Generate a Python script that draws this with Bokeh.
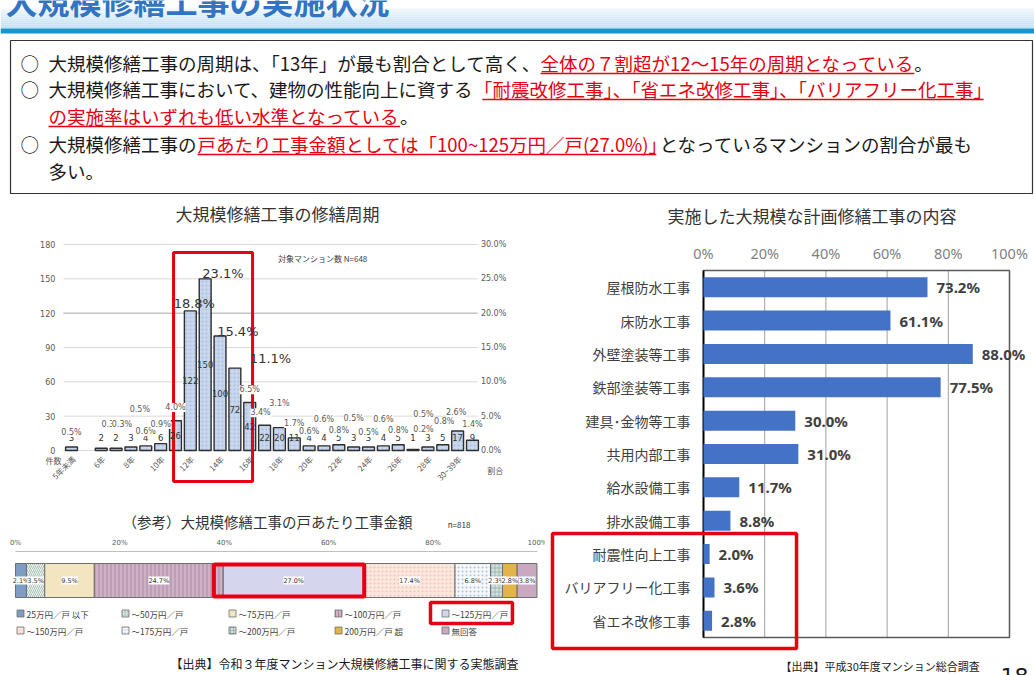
import math
from bokeh.plotting import figure
from bokeh.layouts import column, row
from bokeh.models import Range1d, LabelSet, ColumnDataSource
from bokeh.embed import file_html
from bokeh.resources import INLINE
from bokeh.core.properties import value

JP = "Noto Sans CJK JP"
NUM = "DejaVu Sans"
RED = "#E60012"
DARK = "#404040"
GRAY = "#595959"

# ---------------- data: 大規模修繕工事の修繕周期 ----------------
cycle_categories = ["5年未満", "5年", "6年", "7年", "8年", "9年", "10年", "11年", "12年", "13年",
                    "14年", "15年", "16年", "17年", "18年", "19年", "20年", "21年", "22年", "23年",
                    "24年", "25年", "26年", "27年", "28年", "29年", "30~39年", "40年以上"]
cycle_counts = [3, 0, 2, 2, 3, 4, 6, 26, 122, 150, 100, 72, 42, 22, 20, 11, 4, 4, 5, 3, 3, 4, 5, 1, 3, 5, 17, 9]
cycle_share = [0.5, 0.0, 0.3, 0.3, 0.5, 0.6, 0.9, 4.0, 18.8, 23.1, 15.4, 11.1, 6.5, 3.4, 3.1, 1.7,
               0.6, 0.6, 0.8, 0.5, 0.5, 0.6, 0.8, 0.2, 0.5, 0.8, 2.6, 1.4]
cycle_tick_labels = ["5年未満", "6年", "8年", "10年", "12年", "14年", "16年", "18年", "20年",
                     "22年", "24年", "26年", "28年", "30~39年"]
cycle_n = 648
count_ticks = [0, 30, 60, 90, 120, 150, 180]
share_ticks = [0, 5, 10, 15, 20, 25, 30]

# ---------------- data: 戸あたり工事金額 ----------------
cost_labels = ["25万円／戸 以下", "～50万円／戸", "～75万円／戸", "～100万円／戸", "～125万円／戸",
               "～150万円／戸", "～175万円／戸", "～200万円／戸", "200万円／戸 超", "無回答"]
cost_share = [2.1, 3.5, 9.5, 24.7, 27.0, 17.4, 6.8, 2.3, 2.8, 3.8]
cost_n = 818
cost_ticks = [0, 20, 40, 60, 80, 100]

# ---------------- data: 実施した大規模な計画修繕工事の内容 ----------------
work_categories = ["屋根防水工事", "床防水工事", "外壁塗装等工事", "鉄部塗装等工事", "建具･金物等工事",
                   "共用内部工事", "給水設備工事", "排水設備工事", "耐震性向上工事", "バリアフリー化工事",
                   "省エネ改修工事"]
work_rate = [73.2, 61.1, 88.0, 77.5, 30.0, 31.0, 11.7, 8.8, 2.0, 3.6, 2.8]
work_ticks = [0, 20, 40, 60, 80, 100]


def frame_fig(w, h, pl, pr, pt, pb, x0, x1, y0, y1):
    """Figure whose whole canvas is the frame; the plot box (pl..pr, pt..pb px) maps to x0..x1, y0..y1."""
    sx = (pr - pl) / (x1 - x0)
    sy = (pb - pt) / (y1 - y0)
    xr = Range1d(x0 - pl / sx, x1 + (w - pr) / sx)
    yr = Range1d(y0 - (h - pb) / sy, y1 + pt / sy)
    p = figure(width=w, height=h, x_range=xr, y_range=yr, x_axis_type=None, y_axis_type=None,
               min_border=0, toolbar_location=None, output_backend="svg", outline_line_color=None)
    p.grid.visible = False
    return p, sx, sy


# ---------------- header (title band + summary box) ----------------
hdr = figure(width=1034, height=195, x_range=Range1d(0, 1034), y_range=Range1d(195, 0),
             x_axis_type=None, y_axis_type=None, toolbar_location=None, output_backend="svg",
             min_border=0, outline_line_color=None)

n_strip = 10
c0, c1 = (238, 246, 252), (192, 223, 242)
tops, bots, cols = [], [], []
for i in range(n_strip):
    t = i / (n_strip - 1)
    tops.append(8 + i * 2.0)
    bots.append(8 + (i + 1) * 2.0)
    cols.append("#%02x%02x%02x" % tuple(int(c0[k] + (c1[k] - c0[k]) * t) for k in range(3)))
hdr.quad(left=0, right=1034, top=tops, bottom=bots, fill_color=cols, line_color=None)
hdr.quad(left=0, right=1034, top=28, bottom=33, fill_color="#1B93CC", line_color=None)
hdr.text(x=[5], y=[-1], text=["大規模修繕工事の実施状況"], text_font=value(JP), text_font_size="32px",
         text_font_style="bold", text_color="#3274C2", text_baseline="middle")
hdr.quad(left=10, right=1032, top=40, bottom=193, fill_color=None, line_color="#333333", line_width=1.2)

FS = 18.5
PUNCT = set("、。「」（）『』")


def est_w(s, fs):
    w = 0.0
    for ch in s:
        if ord(ch) < 128:
            w += {'.': 0.25, '(': 0.32, ')': 0.32, '%': 0.86, ' ': 0.25, '~': 0.55}.get(ch, 0.55)
        else:
            w += 1.0
    for a, b in zip(s, s[1:]):
        if a in PUNCT and b in PUNCT:
            w -= 0.5
    return w * fs


K, R = "#1A1A1A", RED
lines = [
    (62, True, [(None, "大規模修繕工事の周期は、「13年」が最も割合として高く、", K),
                (0, "全体の７割超が12～15年の周期となっている", R), (0, "。", K)]),
    (88, True, [(None, "大規模修繕工事において、建物の性能向上に資する", K),
                (0, "「耐震改修工事」、「省エネ改修工事」、「バリアフリー化工事」", R)]),
    (115, False, [(None, "の実施率はいずれも低い水準となっている", R), (0, "。", K)]),
    (143, True, [(None, "大規模修繕工事の", K), (1, "戸あたり工事金額としては「100~125万円／戸(27.0%)」", R),
                 (-5, "となっているマンションの割合が最も", K)]),
    (170, False, [(None, "多い。", K)]),
]
for y, bullet, segs in lines:
    if bullet:
        hdr.text(x=[20], y=[y], text=["○"], text_font=value(JP), text_font_size="%spx" % FS,
                 text_color=K, text_baseline="middle")
    x = 48
    for gap, s, c in segs:
        if gap:
            x += gap
        hdr.text(x=[x], y=[y], text=[s], text_font=value(JP), text_font_size="%spx" % FS,
                 text_color=c, text_baseline="middle")
        w = est_w(s, FS)
        if c == R:
            x_ul = x + (FS * 0.45 if s[0] in "「（" else 0)
            end = x + w - (FS * 0.45 if s[-1] in PUNCT else 0)
            hdr.segment(x0=[x_ul], y0=[y + 11], x1=[end], y1=[y + 11], line_color=R, line_width=1.3)
        x += w

# ---------------- histogram: 修繕周期 ----------------
hs, hsx, hsy = frame_fig(545, 310, 63.6, 479.4, 49, 255, -0.5, 27.5, 0, 180)
ratio = count_ticks[-1] / share_ticks[-1]
hs.extra_y_ranges = {"pct": Range1d(hs.y_range.start / ratio, hs.y_range.end / ratio)}
ncat = len(cycle_categories)
gx0, gx1 = -0.55, ncat - 0.65

hs.segment(x0=gx0, x1=gx1, y0=count_ticks, y1=count_ticks,
           line_color=["#A6A6A6" if t == 120 else "#D9D9D9" for t in count_ticks], line_width=1)
hs.text(x=gx0, y=count_ticks, text=[str(t) for t in count_ticks], x_offset=-8, text_align="right",
        text_baseline="middle", text_font=value(NUM), text_font_size="8px", text_color=GRAY)
hs.text(x=ncat - 0.5, y=share_ticks, y_range_name="pct", text=["%.1f%%" % t for t in share_ticks],
        x_offset=1, text_align="left", text_baseline="middle", text_font=value(NUM),
        text_font_size="8px", text_color=GRAY)
tick_idx = [2 * i for i in range(len(cycle_tick_labels))]
hs.text(x=[i + 0.15 for i in tick_idx], y=-7 / hsy, text=cycle_tick_labels, angle=math.pi / 4,
        text_align="right", text_baseline="middle", text_font=value(JP), text_font_size="8px",
        text_color=GRAY)

idx = [i for i, c in enumerate(cycle_counts) if c > 0]
bar_src = ColumnDataSource(dict(
    x=idx,
    top=[cycle_counts[i] for i in idx],
    ly=[max(cycle_counts[i] / 2, 11) for i in idx],
    txt=[str(cycle_counts[i]) for i in idx],
))
hs.vbar(x="x", top="top", width=0.8, source=bar_src, fill_color="#C8D7EE", line_color="#2E2E2E",
        line_width=1.4, hatch_pattern="dot", hatch_color="#94ABD1", hatch_scale=4, hatch_alpha=0.6)
hs.add_layout(LabelSet(x="x", y="ly", text="txt", source=bar_src, text_font=value(NUM),
                       text_font_size="8.5px", text_color="#333333", text_align="center",
                       text_baseline="middle"))

# label placement (layout only)
pct_label_y = [15.7, 0, 22.7, 22.7, 35.8, 16.6, 22.7, 37.6, 128.5, 154.7, 104, 80, 53, 33, 41, 23.6,
               16.6, 27, 17.5, 28, 15.7, 27, 17.5, 18.4, 31.5, 25.4, 33, 22.7]
pct_label_dx = [0, 0, 0.7, 0.4, 0.6, 0, 0, 0, 0.27, 1.2, 1.2, 2.4, 0, -0.27, 0, 0, 0, 0, 0, 0, 0, 0,
                0, 0.7, -0.3, 0.1, -0.1, 0]
small = [i for i in idx if cycle_share[i] < 10]
big = [i for i in idx if cycle_share[i] >= 10]
small_src = ColumnDataSource(dict(x=[i + pct_label_dx[i] for i in small], y=[pct_label_y[i] for i in small],
                                  t=["%.1f%%" % cycle_share[i] for i in small]))
big_src = ColumnDataSource(dict(x=[i + pct_label_dx[i] for i in big], y=[pct_label_y[i] for i in big],
                                t=["%.1f%%" % cycle_share[i] for i in big]))
hs.add_layout(LabelSet(x="x", y="y", text="t", source=small_src, text_font=value(NUM),
                       text_font_size="8px", text_color=GRAY, text_align="center",
                       text_baseline="middle", background_fill_color="white"))
hs.add_layout(LabelSet(x="x", y="y", text="t", source=big_src, text_font=value(NUM),
                       text_font_size="13px", text_color="#333333", text_align="center",
                       text_baseline="middle"))

hs.text(x=[13.9], y=[168], text=["対象マンション数  N=%d" % cycle_n], text_font=value(JP),
        text_font_size="8px", text_color=DARK, text_baseline="middle")
hs.text(x=[7.0], y=[207], text=["大規模修繕工事の修繕周期"], text_font=value(JP),
        text_font_size="17px", text_color="#333333", text_baseline="middle")
hs.text(x=[-1.75], y=[-8.7], text=["件数"], text_font=value(JP), text_font_size="8px",
        text_color=GRAY, text_baseline="middle")
hs.text(x=[28.0], y=[-17.5], text=["割合"], text_font=value(JP), text_font_size="8px",
        text_color=GRAY, text_baseline="middle")
hs.quad(left=6.87, right=12.19, bottom=-27, top=173, fill_color=None, line_color=RED, line_width=3)

# ---------------- stacked bar: 戸あたり工事金額 ----------------
st, ssx, ssy = frame_fig(545, 170, 15, 537, 46, 170, 0, 100, 0, 124)
st.segment(x0=[cost_ticks[0]], x1=[cost_ticks[-1]], y0=[124], y1=[124], line_color="#BFBFBF", line_width=1)
st.text(x=cost_ticks, y=124 + 9, text=["%d%%" % t for t in cost_ticks], text_align="center",
        text_baseline="middle", text_font=value(NUM), text_font_size="7px", text_color=GRAY)

starts, ends = [], []
acc = 0.0
for v in cost_share:
    starts.append(acc)
    acc += v
    ends.append(acc)
seg_fill = ["#7F9CC2", "#EEF3EF", "#F3E5C0", "#CDB1C5", "#D6D5EE", "#FBE7DE", "#F6F8FC", "#D3E1E1", "#E2B54B", "#C8A9C0"]
seg_hatch = [" ", "right_diagonal_line", " ", "vertical_line", " ", "dot", "dot", "cross", " ", " "]
seg_hcol = ["#7F9CC2", "#A3C2B4", "#F3E5C0", "#AD8BA3", "#D6D5EE", "#EEC3B2", "#A9C3DE", "#9DB8B8", "#E2B54B", "#C8A9C0"]
bar_y = 95
cost_src = ColumnDataSource(dict(
    left=starts, right=ends, y=[bar_y] * len(cost_share), fill=seg_fill, hatch=seg_hatch, hcol=seg_hcol,
    mid=[(a + b) / 2 for a, b in zip(starts, ends)], t=["%.1f%%" % v for v in cost_share],
))
st.hbar(y="y", left="left", right="right", height=34, source=cost_src, fill_color="fill",
        line_color="#6E6E6E", line_width=1, hatch_pattern="hatch", hatch_color="hcol", hatch_scale=4)
st.add_layout(LabelSet(x="mid", y="y", text="t", source=cost_src, text_font=value(NUM),
                       text_font_size="6.5px", text_color="#333333", text_align="center",
                       text_baseline="middle", background_fill_color="white"))

legend_col_px = [20, 125, 232, 338, 445]
legend_row_y = [62, 45]
lx, ly, lt = [], [], []
for k, lab in enumerate(cost_labels):
    r, c = divmod(k, 5)
    lx.append((legend_col_px[c] - 15) / ssx)
    ly.append(legend_row_y[r])
    lt.append(lab)
leg_src = ColumnDataSource(dict(x=lx, y=ly, t=lt, fill=seg_fill, hatch=seg_hatch, hcol=seg_hcol))
st.rect(x="x", y="y", width=7, height=7, width_units="screen", height_units="screen", source=leg_src,
        fill_color="fill", line_color="#6E6E6E", line_width=0.8, hatch_pattern="hatch",
        hatch_color="hcol", hatch_scale=3)
st.text(x="x", y="y", text="t", source=leg_src, x_offset=6, text_font=value(JP),
        text_font_size="8.5px", text_color=DARK, text_baseline="middle")

st.quad(left=starts[4] - 1.8, right=ends[4], bottom=79, top=111, fill_color=None,
        line_color=RED, line_width=4)
st.quad(left=79.5, right=95.2, bottom=52, top=73, fill_color=None, line_color=RED, line_width=3.5)
st.text(x=[20.5], y=[154], text=["（参考）大規模修繕工事の戸あたり工事金額"], text_font=value(JP),
        text_font_size="14.5px", text_color="#333333", text_baseline="middle")
st.text(x=[82.8], y=[151], text=["n=%d" % cost_n], text_font=value(JP), text_font_size="8px",
        text_color="#333333", text_baseline="middle")
st.text(x=[29.7], y=[12], text=["【出典】令和３年度マンション大規模修繕工事に関する実態調査"],
        text_font=value(JP), text_font_size="12px", text_color="#1A1A1A", text_baseline="middle")

# ---------------- horizontal bars: 工事の内容 ----------------
nw = len(work_categories)
rt, rsx, rsy = frame_fig(489, 480, 158, 464, 75, 442, 0, 100, 0, nw)
ypos = [nw - 0.5 - i for i in range(nw)]
inner = work_ticks[1:-1]
rt.segment(x0=inner, x1=inner, y0=0, y1=nw, line_color="#A0A0A0", line_width=1)
rt.quad(left=work_ticks[0], right=work_ticks[-1], bottom=0, top=nw, fill_color=None,
        line_color="#595959", line_width=1.5)
rt.segment(x0=[0], x1=[0], y0=[0], y1=[nw], line_color="#000000", line_width=1.8)
rt.text(x=work_ticks, y=nw + 18 / rsy, text=["%d%%" % t for t in work_ticks], text_align="center",
        text_baseline="middle", text_font=value("Noto Sans"), text_font_size="14.5px", text_color="#7F7F7F")

wsrc = ColumnDataSource(dict(y=ypos, cat=work_categories, rate=work_rate, t=["%.1f%%" % v for v in work_rate]))
rt.hbar(y="y", right="rate", left=0, height=0.6, source=wsrc, fill_color="#4472C4", line_color=None)
rt.text(x=0, y="y", text="cat", source=wsrc, x_offset=-13, text_align="right", text_baseline="middle",
        text_font=value(JP), text_font_size="14px", text_color=DARK)
rt.text(x="rate", y="y", text="t", source=wsrc, x_offset=9, text_align="left", text_baseline="middle",
        text_font=value("Noto Sans"), text_font_size="15px", text_font_style="bold", text_color=DARK)
rt.text(x=[-11.76], y=[12.65], text=["実施した大規模な計画修繕工事の内容"], text_font=value(JP),
        text_font_size="17px", text_color="#333333", text_baseline="middle")
rt.quad(left=-49.35, right=30.4, bottom=-0.33, top=3.12, fill_color=None, line_color=RED, line_width=3.5)
rt.text(x=[25.2], y=[-0.84], text=["【出典】平成30年度マンション総合調査"], text_font=value(JP),
        text_font_size="11px", text_color="#1A1A1A", text_baseline="middle")
rt.text(x=[97.06], y=[-0.9], text=["18"], text_font=value(NUM), text_font_size="22px",
        text_color="#1A1A1A", text_baseline="top")

layout = column(hdr, row(column(hs, st), rt))
open("out.html", "w").write(file_html(layout, INLINE))
